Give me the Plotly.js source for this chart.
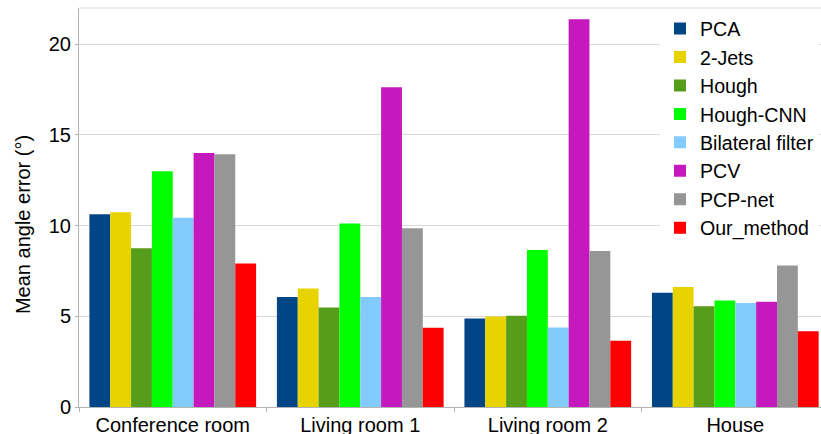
<!DOCTYPE html>
<html>
<head>
<meta charset="utf-8">
<script src="https://cdn.plot.ly/plotly-3.0.1.min.js"></script>
<style>html,body{margin:0;padding:0;background:#fff;}#chart{width:821px;height:434px;}</style>
</head>
<body>
<div id="chart"></div>
<script>
const categories = ["Conference room", "Living room 1", "Living room 2", "House"];
const methods = ["PCA", "2-Jets", "Hough", "Hough-CNN", "Bilateral filter", "PCV", "PCP-net", "Our_method"];
const pca        = [10.63, 6.06, 4.88, 6.30];
const jets2      = [10.74, 6.53, 4.99, 6.61];
const hough      = [8.76, 5.49, 5.03, 5.56];
const houghCNN   = [13.00, 10.12, 8.65, 5.87];
const bilateral  = [10.43, 6.06, 4.39, 5.73];
const pcv        = [14.00, 17.63, 21.38, 5.80];
const pcpnet     = [13.94, 9.86, 8.60, 7.80];
const ourMethod  = [7.91, 4.37, 3.65, 4.17];
const yTicks = [0, 5, 10, 15, 20];

const series = [pca, jets2, hough, houghCNN, bilateral, pcv, pcpnet, ourMethod];
const colors = ["#004586", "#e6d300", "#579d1c", "#00ff00", "#83caff", "#c519bd", "#969696", "#ff0000"];

const FONT = "Liberation Sans, Arial, sans-serif";
const traces = series.map((vals, i) => ({
  type: "bar",
  name: methods[i],
  x: categories,
  y: vals,
  marker: {color: colors[i], line: {width: 0}},
  hoverinfo: "skip"
}));

const layout = {
  width: 821, height: 434,
  margin: {l: 79, r: 0, t: 8, b: 27, autoexpand: false},
  paper_bgcolor: "#ffffff",
  plot_bgcolor: "#ffffff",
  barmode: "group",
  bargap: 0.111,
  bargroupgap: 0,
  font: {family: FONT, size: 20, color: "#000"},
  xaxis: {
    type: "category",
    range: [-0.5, 3.457],
    showgrid: false,
    showline: true, linecolor: "#b3b3b3", linewidth: 1,
    ticks: "outside", ticklen: 4, tickcolor: "#b3b3b3",
    tickson: "boundaries",
    tickfont: {family: FONT, size: 20, color: "#000"},
    zeroline: false
  },
  yaxis: {
    range: [0, 22],
    tickvals: yTicks,
    ticktext: yTicks.map(String),
    showgrid: true, gridcolor: "#d9d9d9", gridwidth: 1,
    showline: true, linecolor: "#b3b3b3", linewidth: 1,
    ticks: "outside", ticklen: 3, tickcolor: "#b3b3b3",
    tickfont: {family: FONT, size: 20, color: "#000"},
    zeroline: false,
    mirror: false
  },
  shapes: [{type: "line", xref: "paper", yref: "paper", x0: 0, x1: 1, y0: 1, y1: 1, line: {color: "#d9d9d9", width: 1}}],
  annotations: [{
    text: "Mean angle error (°)",
    textangle: -90,
    xref: "paper", yref: "paper",
    x: 0, y: 0.456,
    xanchor: "center", yanchor: "middle",
    xshift: -56,
    showarrow: false,
    font: {family: FONT, size: 20, color: "#000"}
  }],
  legend: {
    x: 0.783, xanchor: "left",
    y: 0.997, yanchor: "top",
    bgcolor: "#ffffff",
    borderwidth: 0,
    font: {family: FONT, size: 19.6, color: "#000"},
    traceorder: "normal",
    itemclick: false
  },
  showlegend: true
};

Plotly.newPlot("chart", traces, layout, {staticPlot: true, displayModeBar: false});
</script>
</body>
</html>
